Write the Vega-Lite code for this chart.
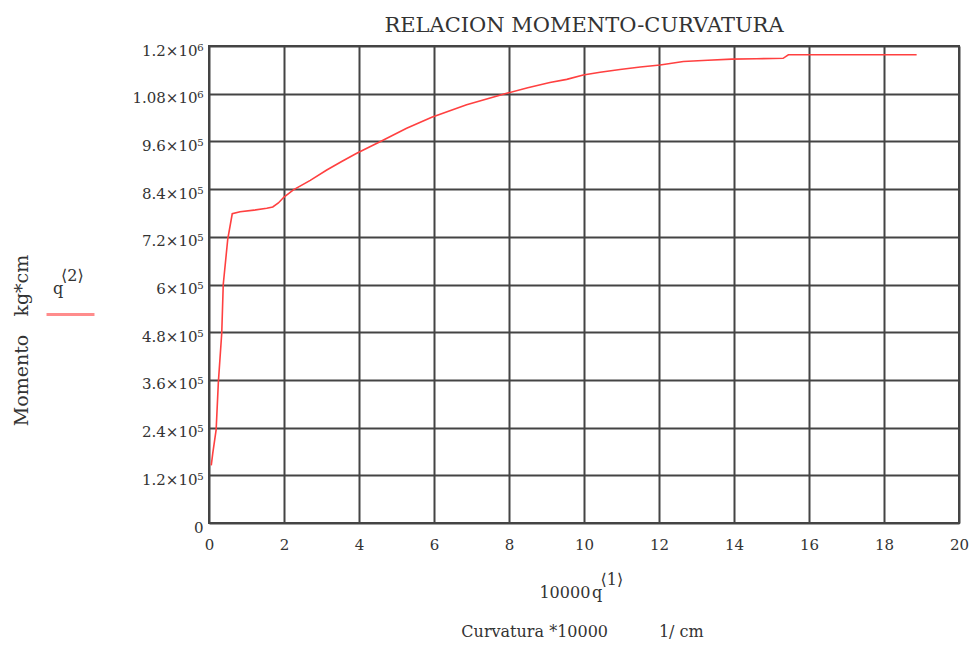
{
  "$schema": "https://vega.github.io/schema/vega-lite/v6.json",
  "autosize": "none",
  "width": 750,
  "height": 477,
  "padding": {"left": 209, "top": 46, "right": 16, "bottom": 123},
  "background": "white",
  "title": {
    "text": "RELACION MOMENTO-CURVATURA",
    "font": "DejaVu Serif",
    "fontSize": 21,
    "fontWeight": "normal",
    "color": "#333",
    "anchor": "middle",
    "offset": 7
  },
  "config": {
    "view": {"stroke": "#444", "strokeWidth": 2},
    "axis": {
      "labelFont": "DejaVu Serif",
      "titleFont": "DejaVu Serif",
      "labelColor": "#333",
      "titleColor": "#333",
      "labelFontSize": 15,
      "titleFontSize": 15,
      "titleFontWeight": "normal",
      "grid": true,
      "gridColor": "#444",
      "gridWidth": 2,
      "gridOpacity": 1,
      "ticks": false,
      "domain": false
    }
  },
  "data": {
    "values": [
      {"c": 0.06, "m": 145000},
      {"c": 0.1, "m": 175000},
      {"c": 0.19, "m": 234000},
      {"c": 0.25, "m": 355000},
      {"c": 0.34, "m": 478000},
      {"c": 0.38, "m": 600000},
      {"c": 0.5, "m": 714000},
      {"c": 0.62, "m": 778000},
      {"c": 0.83, "m": 783000},
      {"c": 1.2, "m": 787000},
      {"c": 1.54, "m": 792000},
      {"c": 1.7, "m": 795000},
      {"c": 1.85, "m": 805000},
      {"c": 2.0, "m": 820000},
      {"c": 2.25, "m": 838000},
      {"c": 2.7, "m": 862000},
      {"c": 3.14, "m": 888000},
      {"c": 3.55, "m": 910000},
      {"c": 3.94, "m": 930000},
      {"c": 4.56, "m": 959000},
      {"c": 5.27, "m": 993000},
      {"c": 5.94, "m": 1021000},
      {"c": 6.87, "m": 1052000},
      {"c": 7.94, "m": 1081000},
      {"c": 8.5, "m": 1095000},
      {"c": 9.09, "m": 1108000},
      {"c": 9.54, "m": 1116000},
      {"c": 9.98, "m": 1127000},
      {"c": 10.43, "m": 1134000},
      {"c": 10.96, "m": 1141000},
      {"c": 11.5, "m": 1147000},
      {"c": 12.03, "m": 1152000},
      {"c": 12.65, "m": 1161000},
      {"c": 13.3, "m": 1164000},
      {"c": 13.94, "m": 1167000},
      {"c": 14.6, "m": 1168000},
      {"c": 15.31, "m": 1169000},
      {"c": 15.45, "m": 1178000},
      {"c": 17.0, "m": 1178000},
      {"c": 18.87, "m": 1178000}
    ]
  },
  "mark": {"type": "line", "strokeWidth": 1.6, "interpolate": "linear"},
  "encoding": {
    "x": {
      "field": "c",
      "type": "quantitative",
      "scale": {"domain": [0, 20], "nice": false, "zero": true},
      "axis": {
        "values": [0, 2, 4, 6, 8, 10, 12, 14, 16, 18, 20],
        "labelPadding": 14,
        "labelFlush": false,
        "title": ["\u2800\u2800\u2800\u2800\u2800⟨1⟩", "10000\u200aq\u2800\u2800", "\u2800", "\u2800", "Curvatura *10000\u00a0\u00a0\u00a0\u00a0\u00a0\u00a0\u00a0\u00a0\u00a0\u00a01/ cm"],
        "titleFontSize": 16,
        "titleLineHeight": 13,
        "titleX": 373,
        "titleY": 61,
        "titleAlign": "center",
        "titleBaseline": "alphabetic"
      }
    },
    "y": {
      "field": "m",
      "type": "quantitative",
      "scale": {"domain": [0, 1200000], "nice": false},
      "axis": {
        "values": [0, 120000, 240000, 360000, 480000, 600000, 720000, 840000, 960000, 1080000, 1200000],
        "labelPadding": 6,
        "labelOffset": 4,
        "labelFlush": false,
        "labelExpr": "datum.value == 0 ? '0' : format(datum.value / pow(10, floor(log(datum.value) / LN10)), '.3~g') + '×10' + (floor(log(datum.value) / LN10) == 6 ? '⁶' : '⁵')",
        "title": "Momento\u00a0\u00a0\u00a0kg*cm",
        "titleFontSize": 19,
        "titleX": -188,
        "titleY": 294,
        "titleAngle": -90,
        "titleAlign": "center",
        "titleBaseline": "middle"
      }
    },
    "color": {
      "datum": "q",
      "type": "nominal",
      "scale": {"range": ["#ff4040"]},
      "legend": {
        "orient": "none",
        "legendX": -164,
        "legendY": 222,
        "title": ["\u200b\u2003⟨2⟩", "\u200b\u2002q"],
        "titleFont": "DejaVu Serif",
        "titleFontSize": 16,
        "titleFontWeight": "normal",
        "titleColor": "#333",
        "titleLineHeight": 13,
        "titlePadding": -8,
        "symbolType": "stroke",
        "symbolSize": 2300,
        "symbolStrokeWidth": 3,
        "symbolOpacity": 0.6,
        "labelExpr": "''",
        "labelFontSize": 1
      }
    }
  }
}
